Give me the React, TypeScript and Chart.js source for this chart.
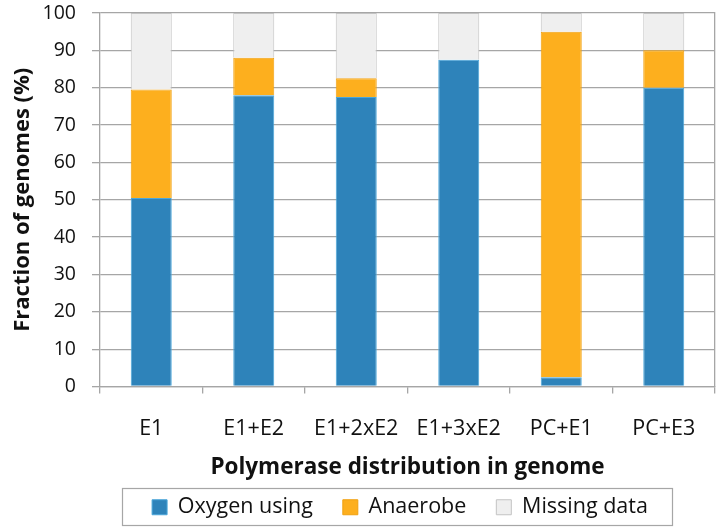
import React, { useEffect, useRef } from "react";
import { Chart, registerables } from "chart.js";

Chart.register(...registerables);

const categories = ["E1", "E1+E2", "E1+2xE2", "E1+3xE2", "PC+E1", "PC+E3"];
const oxygenUsing = [50.5, 78, 77.5, 87.5, 2.5, 80];
const anaerobe = [29, 10, 5, 0, 92.5, 10];
const missingData = [20.5, 12, 17.5, 12.5, 5, 10];
const yTicks = [0, 10, 20, 30, 40, 50, 60, 70, 80, 90, 100];

const FONT = "'Open Sans', Lato, sans-serif";
const GRID = "#A6A6A6";
const LEGEND_SHIFT = 42;

const legendShift = {
  id: "legendShift",
  afterLayout(chart: any) {
    const lg = chart.legend;
    if (!lg) return;
    lg.left += LEGEND_SHIFT;
    lg.right += LEGEND_SHIFT;
  },
  afterDraw(chart: any) {
    const lg = chart.legend;
    if (!lg || !lg.legendHitBoxes || !lg.legendHitBoxes.length) return;
    const boxes = lg.legendHitBoxes;
    let l = Infinity, r = -Infinity, t = Infinity, b = -Infinity;
    for (const h of boxes) {
      l = Math.min(l, h.left);
      r = Math.max(r, h.left + h.width);
      t = Math.min(t, h.top);
      b = Math.max(b, h.top + h.height);
    }
    const ctx = chart.ctx;
    ctx.save();
    ctx.strokeStyle = "#A6A6A6";
    ctx.lineWidth = 1.2;
    const cy = (t + b) / 2;
    ctx.strokeRect(Math.round(l - 30) + 0.5, Math.round(cy - 19) + 0.5, Math.round(r - l + 54), 37);
    ctx.restore();
  },
};

export default function App() {
  const ref = useRef<HTMLCanvasElement | null>(null);
  useEffect(() => {
    document.body.style.margin = "0";
    const chart = new Chart(ref.current as HTMLCanvasElement, {
      type: "bar",
      data: {
        labels: categories,
        datasets: [
          {
            label: "Oxygen using",
            data: oxygenUsing,
            backgroundColor: "#2E83BA",
            borderColor: "#4BA6DA",
            borderWidth: 1,
          },
          {
            label: "Anaerobe",
            data: anaerobe,
            backgroundColor: "#FDAF1E",
            borderColor: "#F0A010",
            borderWidth: 1,
          },
          {
            label: "Missing data",
            data: missingData,
            backgroundColor: "#EFEFEF",
            borderColor: "#C3C3C3",
            borderWidth: 1,
          },
        ],
      },
      options: {
        responsive: false,
        animation: false,
        devicePixelRatio: 1,
        layout: { padding: { top: 13, right: 4, bottom: 2, left: 0 } },
        datasets: { bar: { barPercentage: 0.4, categoryPercentage: 1 } },
        plugins: {
          tooltip: { enabled: false },
          legend: {
            position: "bottom",
            labels: {
              font: { family: FONT, size: 21.5 },
              color: "#111",
              boxWidth: 15,
              boxHeight: 15,
              padding: 30,
            },
          },
        },
        scales: {
          x: {
            stacked: true,
            afterFit(scale: any) {
              scale.height = 80;
            },
            grid: {
              drawOnChartArea: false,
              drawTicks: true,
              tickLength: 7,
              color: GRID,
              lineWidth: 1.3,
            },
            border: { color: GRID, width: 1.3 },
            ticks: {
              font: { family: FONT, size: 21.5 },
              color: "#111",
              padding: 22,
            },
            title: {
              display: true,
              text: "Polymerase distribution in genome",
              font: { family: FONT, size: 22.5, weight: "bold" },
              color: "#111",
              padding: { top: 0, bottom: -14.5 },
            },
          },
          y: {
            stacked: true,
            min: 0,
            max: 100,
            afterFit(scale: any) {
              scale.width = 100;
              scale.paddingTop = 0;
              scale.paddingBottom = 0;
            },
            afterBuildTicks(scale: any) {
              scale.ticks = yTicks.map((v) => ({ value: v }));
            },
            grid: { color: GRID, lineWidth: 1.3, tickLength: 8 },
            border: { color: GRID, width: 1.3 },
            ticks: {
              font: { family: FONT, size: 19.5 },
              color: "#111",
              padding: 16,
            },
            title: {
              display: true,
              text: "Fraction of genomes (%)",
              font: { family: FONT, size: 22, weight: "bold" },
              color: "#111",
              padding: { top: 10, bottom: 0 },
            },
          },
          y2: {
            position: "right",
            min: 0,
            max: 100,
            grid: { drawOnChartArea: false, drawTicks: false },
            border: { color: GRID, width: 1.3 },
            ticks: { display: false },
            afterFit(scale: any) {
              scale.width = 1;
              scale.paddingTop = 0;
              scale.paddingBottom = 0;
            },
          },
        },
      },
      plugins: [legendShift],
    } as any);
    return () => chart.destroy();
  }, []);
  return <canvas ref={ref} width={720} height={530} style={{ display: "block" }} />;
}
